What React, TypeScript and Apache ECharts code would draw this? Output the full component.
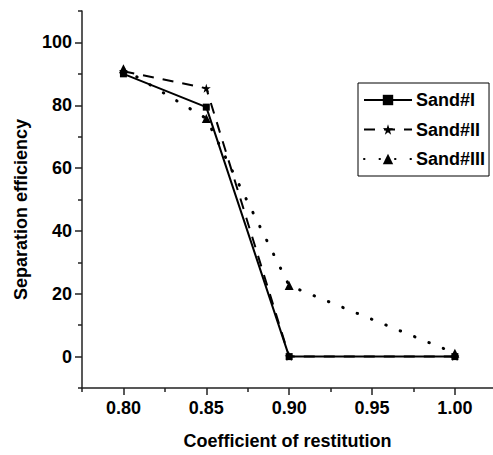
import React, { useEffect, useRef } from "react";
import * as echarts from "echarts";

const xValues = [0.8, 0.85, 0.9, 1.0];
const sand1 = [90, 79.4, 0, 0];
const sand2 = [90.8, 85.4, 0, 0];
const sand3 = [91.6, 75.8, 22.6, 1.1];
const seriesNames = ["Sand#I", "Sand#II", "Sand#III"];
const xMajorTicks = [0.8, 0.85, 0.9, 0.95, 1.0];
const xMinorTicks = [0.775, 0.825, 0.875, 0.925, 0.975];
const yMajorTicks = [0, 20, 40, 60, 80, 100];
const yMinorTicks = [-10, 10, 30, 50, 70, 90, 110];

const FONT = "Liberation Sans, Arial, sans-serif";
const AXIS_COLOR = "#222";

export default function App() {
  const ref = useRef<HTMLDivElement>(null);
  useEffect(() => {
    if (!ref.current) return;
    const chart = echarts.init(ref.current, null, { renderer: "svg" });
    const pair = (vals: number[]) => xValues.map((x, i) => [x, vals[i]]);
    const labelStyle = { fontFamily: FONT, fontWeight: "bold" as const, fontSize: 18, color: "#000" };
    chart.setOption({
      animation: false,
      backgroundColor: "#fff",
      grid: { left: 82, right: 0, top: 11, bottom: 67, containLabel: false },
      legend: {
        orient: "vertical",
        left: 358,
        top: 83,
        itemWidth: 48,
        itemHeight: 13,
        itemGap: 11.5,
        padding: [8, 4, 8, 5],
        borderColor: "#000",
        borderWidth: 1,
        lineStyle: { width: 2 },
        textStyle: { ...labelStyle, padding: [0, 0, 0, -1] },
        data: seriesNames,
      },
      xAxis: [
        {
          type: "value",
          min: 0.775,
          max: 1.023,
          position: "bottom",
          name: "Coefficient of restitution",
          nameLocation: "middle",
          nameGap: 44,
          nameTextStyle: { ...labelStyle, verticalAlign: "top" },
          axisLine: { show: true, onZero: false, lineStyle: { color: AXIS_COLOR, width: 1.5 } },
          axisTick: { show: true, inside: false, length: 7, customValues: xMajorTicks, lineStyle: { color: AXIS_COLOR, width: 1.5 } },
          axisLabel: { ...labelStyle, margin: 11, customValues: xMajorTicks, formatter: (v: number) => v.toFixed(2) },
          splitLine: { show: false },
        },
        {
          type: "value",
          min: 0.775,
          max: 1.023,
          position: "bottom",
          axisLine: { show: false, onZero: false },
          axisTick: { show: true, inside: false, length: 4, customValues: xMinorTicks, lineStyle: { color: AXIS_COLOR, width: 1.5 } },
          axisLabel: { show: false },
          splitLine: { show: false },
        },
      ],
      yAxis: [
        {
          type: "value",
          min: -10,
          max: 110,
          position: "left",
          name: "Separation efficiency",
          nameLocation: "middle",
          nameGap: 52,
          nameTextStyle: { ...labelStyle, padding: [0, 20, 0, 0] },
          axisLine: { show: true, onZero: false, lineStyle: { color: AXIS_COLOR, width: 1.5 } },
          axisTick: { show: true, inside: false, length: 7, customValues: yMajorTicks, lineStyle: { color: AXIS_COLOR, width: 1.5 } },
          axisLabel: { ...labelStyle, margin: 10, customValues: yMajorTicks },
          splitLine: { show: false },
        },
        {
          type: "value",
          min: -10,
          max: 110,
          position: "left",
          axisLine: { show: false, onZero: false },
          axisTick: { show: true, inside: false, length: 4, customValues: yMinorTicks, lineStyle: { color: AXIS_COLOR, width: 1.5 } },
          axisLabel: { show: false },
          splitLine: { show: false },
        },
      ],
      series: [
        {
          name: seriesNames[0],
          type: "line",
          xAxisIndex: 0,
          yAxisIndex: 0,
          data: pair(sand1),
          symbol: "rect",
          symbolSize: 7,
          itemStyle: { color: "#000" },
          lineStyle: { color: "#000", width: 2, type: "solid" },
        },
        {
          name: seriesNames[1],
          type: "line",
          xAxisIndex: 0,
          yAxisIndex: 0,
          data: pair(sand2),
          symbol: "path://M50,0 L61.8,35.1 L98.9,35.1 L69.1,57.3 L79.4,92.7 L50,71.2 L20.6,92.7 L30.9,57.3 L1.1,35.1 L38.2,35.1 Z",
          symbolSize: 9,
          itemStyle: { color: "#000" },
          lineStyle: { color: "#000", width: 2, type: [11, 9] },
        },
        {
          name: seriesNames[2],
          type: "line",
          xAxisIndex: 0,
          yAxisIndex: 0,
          data: pair(sand3),
          symbol: "triangle",
          symbolSize: 9,
          itemStyle: { color: "#000" },
          lineStyle: { color: "#000", width: 3, type: [0.5, 15], cap: "round" },
        },
      ],
    });
    return () => chart.dispose();
  }, []);
  return (
    <div
      ref={ref}
      style={{ position: "fixed", left: 0, top: 0, width: 493, height: 455, background: "#fff" }}
    />
  );
}
